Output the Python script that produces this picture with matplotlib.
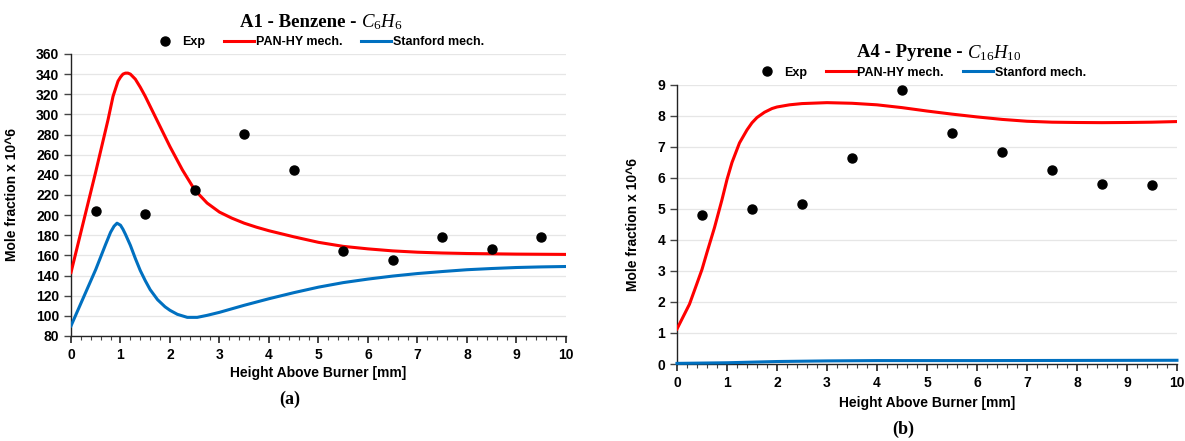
import numpy as np
import matplotlib
matplotlib.use('Agg')
import matplotlib.pyplot as plt
from matplotlib.ticker import MultipleLocator

plt.rcParams['font.family'] = ['Liberation Sans', 'DejaVu Sans']
plt.rcParams['font.weight'] = 'bold'
plt.rcParams['mathtext.fontset'] = 'custom'
plt.rcParams['mathtext.it'] = 'Liberation Serif:italic:weight=normal'
plt.rcParams['mathtext.rm'] = 'Liberation Serif:weight=normal'

# --- A1 benzene ---
exp_x = [0.5, 1.5, 2.5, 3.5, 4.5, 5.5, 6.5, 7.5, 8.5, 9.5]
a1_exp = [204.5, 201, 224.5, 281, 244.5, 164, 155, 178, 166, 178]

a1_pan_x = [0, 0.25, 0.5, 0.75, 0.85, 0.95, 1.0, 1.05, 1.1, 1.15, 1.2, 1.3, 1.4, 1.5,
            1.6, 1.75, 2.0, 2.25, 2.5, 2.75, 3.0, 3.25, 3.5, 3.75, 4.0, 4.5, 5.0,
            5.5, 6.0, 6.5, 7.0, 7.5, 8.0, 9.0, 10.0]
a1_pan = [143, 193, 243, 295, 318, 333, 337, 340, 341, 341, 340, 335, 327, 318,
          308, 293, 268, 245, 225, 212, 203, 197, 192, 188, 184.5, 178.5, 173,
          169, 166.5, 164.5, 163.2, 162.4, 161.9, 161.3, 161]

a1_stan_x = [0, 0.25, 0.5, 0.7, 0.8, 0.87, 0.93, 1.0, 1.05, 1.1, 1.2, 1.3, 1.4, 1.5,
             1.6, 1.75, 1.9, 2.0, 2.15, 2.35, 2.55, 2.75, 3.0, 3.5, 4.0, 4.5, 5.0,
             5.5, 6.0, 6.5, 7.0, 7.5, 8.0, 8.5, 9.0, 9.5, 10.0]
a1_stan = [90, 118, 146, 171, 183, 189, 192, 190, 186, 181, 170, 157, 145, 135,
           126, 116, 109, 105.5, 101.5, 98.5, 98.5, 100.5, 103.5, 110.5, 117, 123, 128.5,
           133, 136.5, 139.5, 142, 144, 145.8, 147, 148, 148.6, 149]

# --- A4 pyrene ---
a4_exp = [4.8, 4.99, 5.16, 6.63, 8.83, 7.44, 6.84, 6.27, 5.81, 5.78]

a4_pan_x = [0, 0.25, 0.4, 0.5, 0.6, 0.75, 0.9, 1.0, 1.1, 1.25, 1.4, 1.5, 1.6, 1.75,
            1.9, 2.0, 2.25, 2.5, 3.0, 3.5, 4.0, 4.5, 5.0, 5.5, 6.0, 6.5, 7.0, 7.5,
            8.0, 8.5, 9.0, 9.5, 10.0]
a4_pan = [1.13, 1.93, 2.6, 3.05, 3.6, 4.4, 5.3, 5.95, 6.5, 7.13, 7.55, 7.78, 7.95, 8.12,
          8.24, 8.29, 8.36, 8.4, 8.43, 8.41, 8.36, 8.27, 8.16, 8.06, 7.97, 7.89, 7.83, 7.8,
          7.79, 7.785, 7.79, 7.8, 7.82]

a4_stan_x = [0, 1, 2, 3, 4, 6, 10]
a4_stan = [0.02, 0.04, 0.08, 0.10, 0.11, 0.11, 0.12]

RED = '#FF0000'
BLUE = '#0070C0'


def style_axes(ax, ymin, ymax, ystep):
    ax.set_xlim(0, 10)
    ax.set_ylim(ymin, ymax)
    ax.xaxis.set_major_locator(MultipleLocator(1))
    ax.xaxis.set_minor_locator(MultipleLocator(0.2))
    ax.yaxis.set_major_locator(MultipleLocator(ystep))
    ax.grid(axis='y', color='#E6E6E6', lw=0.9)
    ax.set_axisbelow(True)
    for s in ['top', 'right']:
        ax.spines[s].set_visible(False)
    for s in ['left', 'bottom']:
        ax.spines[s].set_color('#222222')
        ax.spines[s].set_linewidth(1.0)
    ax.tick_params(axis='x', which='major', direction='out', length=5, width=1.2, color='#222222')
    ax.tick_params(axis='x', which='minor', direction='out', length=3, width=0.8, color='#444444')
    ax.tick_params(axis='y', which='major', direction='out', length=5, width=1.0, color='#444444')
    ax.tick_params(labelsize=10)
    ax.set_xlabel('Height Above Burner [mm]', fontsize=10, fontweight='bold')
    ax.set_ylabel('Mole fraction x 10^6', fontsize=10, fontweight='bold')


fig = plt.figure(figsize=(11.85, 4.41), dpi=100)

ax1 = fig.add_axes([0.0599, 0.2381, 0.4177, 0.6395])
ax1.plot(a1_pan_x, a1_pan, color=RED, lw=2.2, label='PAN-HY mech.', zorder=3)
ax1.plot(a1_stan_x, a1_stan, color=BLUE, lw=2.2, label='Stanford mech.', zorder=3)
ax1.plot(exp_x, a1_exp, 'o', color='black', ms=6.5, label='Exp', zorder=4)
style_axes(ax1, 80, 360, 20)
ax1.yaxis.set_label_coords(-0.105, 0.5)
ax1.xaxis.set_label_coords(0.5, -0.106)

ax2 = fig.add_axes([0.5713, 0.1746, 0.4219, 0.6327])
ax2.plot(a4_pan_x, a4_pan, color=RED, lw=2.2, label='PAN-HY mech.', zorder=3)
ax2.plot(a4_stan_x, a4_stan, color=BLUE, lw=2.2, label='Stanford mech.', zorder=3, clip_on=False)
ax2.plot(exp_x, a4_exp, 'o', color='black', ms=6.5, label='Exp', zorder=4)
style_axes(ax2, 0, 9, 1)
ax2.yaxis.set_label_coords(-0.074, 0.5)
ax2.xaxis.set_label_coords(0.5, -0.115)

for ax, lx, ly in [(ax1, 0.2675, 0.905), (ax2, 0.7754, 0.835)]:
    h, l = ax.get_legend_handles_labels()
    order = [2, 0, 1]
    fig.legend([h[i] for i in order], [l[i] for i in order], loc='center',
               bbox_to_anchor=(lx, ly), ncol=3, frameon=False, handlelength=2.4,
               handletextpad=0.15, columnspacing=1.5,
               prop={'weight': 'bold', 'size': 9})

# titles: bold serif name + italic formula
for xs, ys, name, formula in [(0.3045, 0.950, 'A1 - Benzene - ', r'$C_6H_6$'),
                              (0.8160, 0.880, 'A4 - Pyrene - ', r'$C_{16}H_{10}$')]:
    fig.text(xs, ys, name, ha='right', va='center', fontsize=13.5,
             fontweight='bold', family='Liberation Serif')
    fig.text(xs, ys, formula, ha='left', va='center', fontsize=13.5,
             fontweight='normal', family='Liberation Serif')

fig.text(0.2447, 0.095, '(a)', ha='center', va='center', fontsize=13,
         fontweight='bold', family='Liberation Serif')
fig.text(0.762, 0.027, '(b)', ha='center', va='center', fontsize=13,
         fontweight='bold', family='Liberation Serif')

fig.savefig('out.png', dpi=100)
